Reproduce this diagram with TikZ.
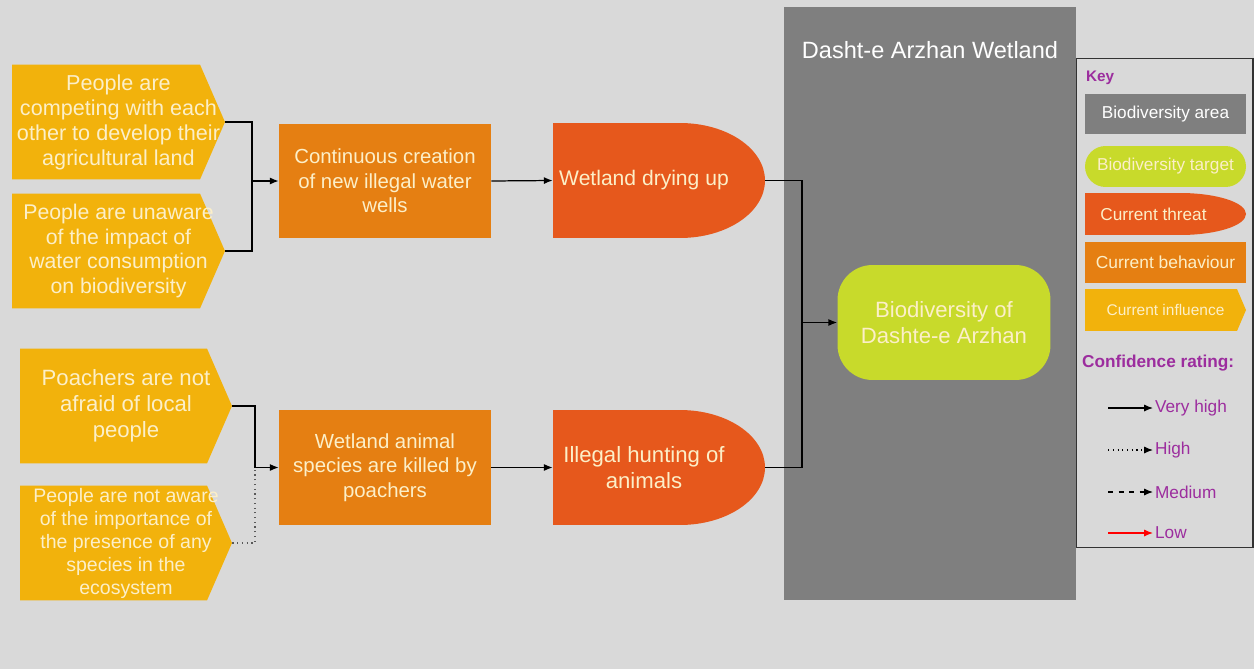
\documentclass[tikz,border=0pt]{standalone}
\usepackage{fontspec}
\setmainfont{Liberation Sans}
\usetikzlibrary{arrows.meta}

\definecolor{bg}{HTML}{D9D9D9}
\definecolor{areagray}{HTML}{7F7F7F}
\definecolor{inflcol}{HTML}{F2B20C}
\definecolor{behavcol}{HTML}{E57F12}
\definecolor{threatcol}{HTML}{E6581C}
\definecolor{targetcol}{HTML}{C8DA2B}
\definecolor{cream}{HTML}{FCEFC8}
\definecolor{keypurple}{HTML}{9C2D9E}

\tikzset{
  influence/.style={rectangle, text=cream, align=center, inner sep=1pt,
    path picture={\fill[inflcol] (path picture bounding box.south west)
      -- (path picture bounding box.north west)
      -- ([xshift=-#1]path picture bounding box.north east)
      -- (path picture bounding box.east)
      -- ([xshift=-#1]path picture bounding box.south east) -- cycle;}},
  behaviour/.style={rectangle, fill=behavcol, text=cream, align=center,
    minimum width=4.24cm, minimum height=2.3cm},
  threat/.style 2 args={rectangle, text=cream, align=center,
    path picture={\fill[threatcol] (path picture bounding box.south west)
      -- (path picture bounding box.north west)
      -- ([xshift=-#1]path picture bounding box.north east)
      arc[start angle=90, end angle=-90, x radius=#1, y radius=#2] -- cycle;}},
  threattxt/.style={text=cream, align=center, inner sep=0pt},
  target/.style={rectangle, fill=targetcol, text=cream, align=center},
  keytxt/.style={text=keypurple, inner sep=1pt, anchor=west},
  link/.style={line width=0.7pt, -{Latex[length=5pt,width=4pt]}},
  line/.style={line width=0.7pt}
}

\begin{document}
\begin{tikzpicture}[x=0.02cm, y=-0.02cm]
  \useasboundingbox (0,0) rectangle (1254,669);
  \fill[bg] (0,0) rectangle (1254,669);

  % biodiversity area
  \node[fill=areagray, minimum width=5.84cm, minimum height=11.86cm] (area) at (930,303.5) {};
  \node[text=white, font=\fontsize{13.4}{16}\selectfont] (title) at (930,50) {Dasht-e Arzhan Wetland};

  % influences
  \node[influence=0.5cm, minimum width=4.26cm, minimum height=2.3cm,
    font=\fontsize{12.3}{14.2}\selectfont] (in1) at (118.5,122)
    {People are\\competing with each\\other to develop their\\agricultural land};
  \node[influence=0.5cm, minimum width=4.26cm, minimum height=2.3cm,
    font=\fontsize{12.1}{14.1}\selectfont] (in2) at (118.5,251)
    {People are unaware\\of the impact of\\water consumption\\on biodiversity};
  \node[influence=0.5cm, minimum width=4.24cm, minimum height=2.3cm,
    font=\fontsize{12.6}{14.8}\selectfont] (in3) at (126,406)
    {Poachers are not\\afraid of local\\people};
  \node[influence=0.5cm, minimum width=4.24cm, minimum height=2.3cm,
    font=\fontsize{11.1}{13.1}\selectfont] (in4) at (126,543)
    {People are not aware\\of the importance of\\the presence of any\\species in the\\ecosystem};

  % behaviours
  \node[behaviour, font=\fontsize{11.6}{14}\selectfont] (beh1) at (385,181)
    {Continuous creation\\of new illegal water\\wells};
  \node[behaviour, font=\fontsize{11.6}{14}\selectfont] (beh2) at (385,467.5)
    {Wetland animal\\species are killed by\\poachers};

  % threats
  \node[threat={1.7cm}{1.15cm}, minimum width=4.24cm, minimum height=2.3cm,
    label={[threattxt, xshift=-0.3cm, font=\fontsize{12}{14.8}\selectfont]center:Wetland drying up}]
    (thr1) at (659,180.5) {};
  \node[threat={1.7cm}{1.15cm}, minimum width=4.24cm, minimum height=2.3cm,
    label={[threattxt, xshift=-0.3cm, font=\fontsize{12.6}{14.8}\selectfont]center:Illegal hunting of\\animals}]
    (thr2) at (659,467.5) {};

  % target
  \node[target, rounded corners=0.7cm, minimum width=4.26cm, minimum height=2.3cm,
    font=\fontsize{12.6}{14.8}\selectfont] (tgt) at (944,322.5) {Biodiversity of\\Dashte-e Arzhan};

  % connectors
  \coordinate (j1) at (252,181);
  \coordinate (j2) at (255,467.5);
  \coordinate (j3) at (802,322.5);
  \draw[line] (in1.east) -| (j1);
  \draw[line] (in2.east) -| (j1);
  \draw[link] (j1) -- (beh1.west);
  \draw[line] (in3.east) -| (j2);
  \draw[line, dotted, gray!70!black] (in4.east) -| (j2);
  \draw[link] (j2) -- (beh2.west);
  \draw[link] (beh1.east) -- (thr1.west);
  \draw[link] (beh2.east) -- (thr2.west);
  \draw[line] (thr1.east) -| (j3);
  \draw[line] (thr2.east) -| (j3);
  \draw[link] (j3) -- (tgt.west);

  % key
  \node[draw=black!80, line width=0.6pt, minimum width=3.54cm, minimum height=9.8cm] (key) at (1164.5,303) {};
  \node[keytxt, font=\bfseries\fontsize{8.7}{10}\selectfont] (keyhead) at (1084,78) {Key};
  \node[fill=areagray, text=white, minimum width=3.22cm, minimum height=0.82cm,
    font=\fontsize{9.8}{11}\selectfont] (karea) at (1165.5,114) {Biodiversity area};
  \node[target, rounded corners=0.41cm, minimum width=3.22cm, minimum height=0.82cm,
    font=\fontsize{9.8}{11}\selectfont] (ktgt) at (1165.5,166.5) {Biodiversity target};
  \node[threat={1.32cm}{0.42cm}, minimum width=3.22cm, minimum height=0.84cm,
    label={[threattxt, xshift=-0.24cm, font=\fontsize{9.8}{11}\selectfont]center:Current threat}]
    (kthr) at (1165.5,214) {};
  \node[behaviour, minimum width=3.22cm, minimum height=0.82cm,
    font=\fontsize{9.9}{11}\selectfont] (kbeh) at (1165.5,262.5) {Current behaviour};
  \node[influence=0.18cm, minimum width=3.22cm, minimum height=0.84cm,
    font=\fontsize{8.8}{10}\selectfont] (kinf) at (1165.5,310) {Current influence};
  \node[keytxt, font=\bfseries\fontsize{9.8}{11}\selectfont] (confhead) at (1080,363) {Confidence rating:};

  \coordinate (cvh) at (1108,408);
  \coordinate (ch) at (1108,450);
  \coordinate (cm) at (1108,492);
  \coordinate (cl) at (1108,533);
  \node[keytxt, font=\fontsize{9.8}{11}\selectfont] (lvh) at (1153,408) {Very high};
  \node[keytxt, font=\fontsize{9.8}{11}\selectfont] (lh) at (1153,450) {High};
  \node[keytxt, font=\fontsize{9.8}{11}\selectfont] (lm) at (1153,492) {Medium};
  \node[keytxt, font=\fontsize{9.8}{11}\selectfont] (ll) at (1153,533) {Low};
  \draw[link] (cvh) -- (lvh.west);
  \draw[link, dotted] (ch) -- (lh.west);
  \draw[link, dashed] (cm) -- (lm.west);
  \draw[link, red] (cl) -- (ll.west);
\end{tikzpicture}
\end{document}
